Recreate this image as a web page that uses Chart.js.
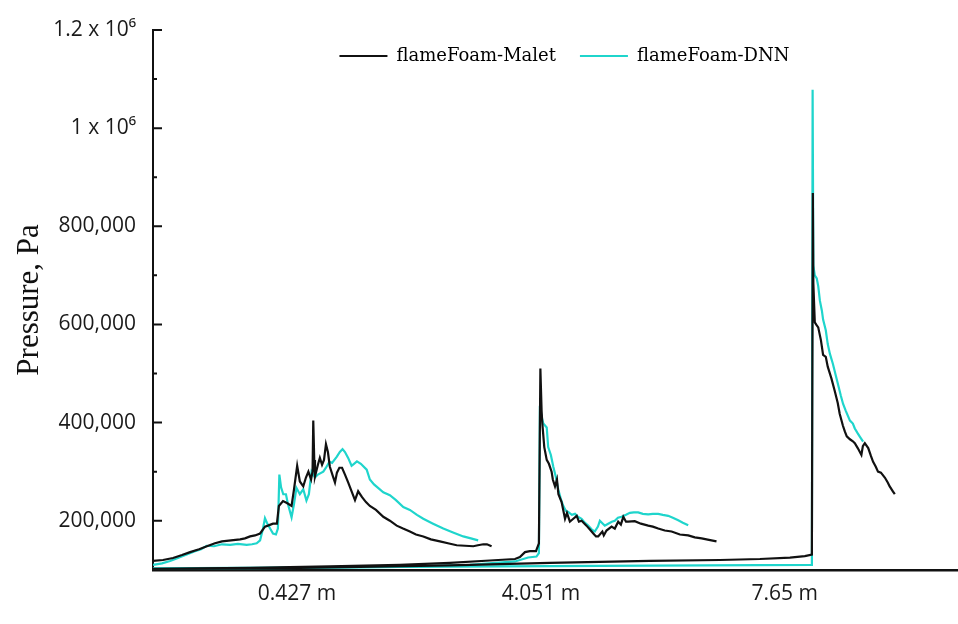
<!DOCTYPE html>
<html>
<head>
<meta charset="utf-8">
<script src="https://cdn.jsdelivr.net/npm/chart.js@4.4.1/dist/chart.umd.min.js"></script>
<style>
  html, body { margin: 0; padding: 0; background: #ffffff; }
  canvas { display: block; }
</style>
</head>
<body>
<canvas id="pressureChart" width="958" height="624"></canvas>
<script>
// Pressure traces [time, Pa] at the three sensor positions.
const maletNear = [
  [0.00,118000],[0.41,120000],[0.82,124000],[1.19,130000],[1.52,136000],[1.89,142000],[2.21,148000],
  [2.54,154000],[2.83,158000],[3.20,160000],[3.57,162000],[3.77,164000],[3.98,168000],[4.18,170000],
  [4.39,174000],[4.59,188000],[4.71,190000],[4.92,194000],[5.08,194000],[5.16,230000],[5.33,240000],
  [5.49,236000],[5.68,230000],[5.78,264000],[5.91,312000],[6.02,280000],[6.16,270000],[6.27,288000],
  [6.37,300000],[6.48,284000],[6.54,300000],[6.57,404000],[6.61,324000],[6.64,290000],[6.76,314000],
  [6.84,328000],[6.93,314000],[7.01,324000],[7.09,356000],[7.17,340000],[7.25,310000],[7.38,290000],
  [7.46,278000],[7.54,298000],[7.64,308000],[7.75,308000],[7.87,294000],[8.00,278000],[8.11,264000],
  [8.28,242000],[8.41,260000],[8.57,248000],[8.73,238000],[8.89,230000],[9.14,222000],[9.44,208000],
  [9.71,200000],[9.99,190000],[10.25,184000],[10.53,178000],[10.78,172000],[11.08,168000],[11.39,162000],
  [11.76,158000],[12.09,154000],[12.45,150000],[12.79,149000],[13.13,148000],[13.32,150000],[13.54,152000],
  [13.69,152000],[13.88,148000]
];
const dnnNear = [
  [0.00,110000],[0.37,113000],[0.70,118000],[1.02,124000],[1.38,131000],[1.72,138000],[1.97,142000],
  [2.20,149000],[2.50,148000],[2.83,152000],[3.16,151000],[3.48,153000],[3.84,151000],[4.06,152000],
  [4.25,154000],[4.39,160000],[4.51,184000],[4.59,205000],[4.67,196000],[4.80,184000],[4.92,174000],
  [5.04,172000],[5.12,184000],[5.18,294000],[5.25,268000],[5.34,254000],[5.45,254000],[5.53,234000],
  [5.68,207000],[5.78,234000],[5.88,267000],[6.02,254000],[6.16,264000],[6.29,241000],[6.39,254000],
  [6.50,300000],[6.64,288000],[6.76,294000],[6.98,300000],[7.09,308000],[7.23,320000],[7.34,318000],
  [7.53,330000],[7.66,340000],[7.77,346000],[7.87,340000],[8.00,328000],[8.14,312000],[8.24,316000],
  [8.36,321000],[8.52,316000],[8.76,304000],[8.89,284000],[9.06,274000],[9.44,258000],[9.71,252000],
  [9.96,242000],[10.26,228000],[10.53,222000],[10.82,212000],[11.08,204000],[11.48,194000],[11.90,184000],
  [12.30,176000],[12.72,168000],[13.03,164000],[13.33,160000]
];
const maletMid = [
  [0.00,102000],[3.98,104000],[7.25,107000],[10.12,110000],[12.17,114000],[13.81,119000],[14.84,122000],
  [15.04,126000],[15.25,136000],[15.45,138000],[15.70,138000],[15.82,154000],[15.88,510000],[15.93,424000],
  [15.96,398000],[16.04,350000],[16.14,324000],[16.23,316000],[16.34,300000],[16.39,284000],[16.48,270000],
  [16.56,284000],[16.62,254000],[16.75,238000],[16.89,204000],[16.97,216000],[17.09,198000],[17.23,204000],
  [17.37,210000],[17.46,198000],[17.57,200000],[17.77,190000],[17.91,182000],[18.05,174000],[18.16,168000],
  [18.25,168000],[18.42,178000],[18.48,170000],[18.59,180000],[18.80,188000],[18.93,184000],[19.07,198000],
  [19.18,192000],[19.28,208000],[19.39,198000],[19.48,198000],[19.75,199000],[20.00,194000],[20.30,190000],
  [20.49,188000],[20.71,184000],[20.98,180000],[21.26,178000],[21.60,172000],[21.94,170000],[22.21,166000],
  [22.49,164000],[22.79,161000],[23.10,158000]
];
const dnnMid = [
  [0.00,102000],[6.02,104000],[10.12,106000],[12.99,110000],[14.84,117000],[15.38,125000],[15.72,127000],
  [15.82,134000],[15.86,434000],[15.92,414000],[16.00,398000],[16.14,390000],[16.20,350000],[16.31,334000],
  [16.41,310000],[16.52,288000],[16.61,264000],[16.72,244000],[16.82,230000],[16.93,220000],[17.02,218000],
  [17.17,212000],[17.30,214000],[17.42,208000],[17.57,204000],[17.70,196000],[17.84,190000],[17.99,182000],
  [18.11,178000],[18.24,188000],[18.32,200000],[18.44,194000],[18.52,190000],[18.66,194000],[18.81,198000],
  [18.93,200000],[19.06,206000],[19.21,208000],[19.39,212000],[19.55,216000],[19.71,217000],[19.89,217000],
  [20.08,214000],[20.30,213000],[20.49,214000],[20.71,214000],[20.90,212000],[21.12,210000],[21.31,206000],
  [21.53,201000],[21.72,196000],[21.94,191000]
];
const maletFar = [
  [0.00,101000],[6.02,104000],[12.17,109000],[16.27,114000],[20.37,118000],[23.24,120000],[24.88,122000],
  [26.11,125000],[26.72,128000],[27.01,131000],[27.05,868000],[27.07,684000],[27.13,604000],[27.21,598000],
  [27.27,594000],[27.38,568000],[27.47,538000],[27.58,534000],[27.66,514000],[27.81,490000],[27.95,464000],
  [28.07,440000],[28.15,418000],[28.28,394000],[28.36,382000],[28.44,372000],[28.57,366000],[28.69,362000],
  [28.77,358000],[28.89,348000],[29.04,334000],[29.10,352000],[29.18,358000],[29.32,348000],[29.43,332000],
  [29.52,320000],[29.63,310000],[29.72,300000],[29.84,298000],[30.00,288000],[30.12,278000],[30.20,270000],
  [30.33,260000],[30.41,254000]
];
const dnnFar = [
  [0.00,103000],[10.12,106000],[18.32,108000],[27.01,110000],[27.04,1078000],[27.07,720000],[27.13,700000],
  [27.21,694000],[27.27,678000],[27.34,648000],[27.42,628000],[27.47,610000],[27.58,588000],[27.66,560000],
  [27.75,540000],[27.87,520000],[27.99,496000],[28.08,478000],[28.20,454000],[28.29,438000],[28.40,424000],
  [28.57,404000],[28.69,398000],[28.77,388000],[28.89,378000],[28.98,371000],[29.11,361000]
];

const seriesNames = ['flameFoam-Malet', 'flameFoam-DNN'];
const sensorLabels = ['0.427 m', '4.051 m', '7.65 m'];
const sensorTicks = [5.9, 15.9, 25.9];
const yTickValues = [200000, 400000, 600000, 800000, 1000000, 1200000];
const yTickLabels = ['200,000', '400,000', '600,000', '800,000', '1 x 10\u2076', '1.2 x 10\u2076'];
const yMinorTicks = [300000, 500000, 700000, 900000, 1100000];

const MALET_COLOR = '#111111';
const DNN_COLOR = '#1fd5cc';
const seriesColors = [MALET_COLOR, DNN_COLOR];

// Malet traces come first so they are painted over the DNN traces.
const traces = [
  { name: seriesNames[0], points: maletNear, color: MALET_COLOR },
  { name: seriesNames[0], points: maletMid, color: MALET_COLOR },
  { name: seriesNames[0], points: maletFar, color: MALET_COLOR },
  { name: seriesNames[1], points: dnnNear, color: DNN_COLOR },
  { name: seriesNames[1], points: dnnMid, color: DNN_COLOR },
  { name: seriesNames[1], points: dnnFar, color: DNN_COLOR }
];

// Short tick marks drawn on the inner side of the pressure axis.
const inwardTicks = {
  id: 'inwardTicks',
  afterDraw(chart) {
    const { ctx, chartArea, scales } = chart;
    const y = scales.y;
    ctx.save();
    ctx.strokeStyle = '#111111';
    ctx.lineWidth = 2;
    ctx.beginPath();
    yTickValues.forEach(v => {
      const py = y.getPixelForValue(v);
      ctx.moveTo(chartArea.left, py);
      ctx.lineTo(chartArea.left + 9, py);
    });
    yMinorTicks.forEach(v => {
      const py = y.getPixelForValue(v);
      ctx.moveTo(chartArea.left, py);
      ctx.lineTo(chartArea.left + 4, py);
    });
    ctx.stroke();
    ctx.restore();
  }
};

// Lays the legend out as a single row and places it inside the plot near its top edge.
const legendPlacement = {
  id: 'legendPlacement',
  beforeLayout(chart) {
    const lg = chart.legend;
    if (lg) lg.isHorizontal = () => true;
  },
  afterLayout(chart) {
    const lg = chart.legend;
    if (!lg) return;
    const a = chart.chartArea;
    lg.left = a.left + 9;
    lg.right = a.right + 9;
    lg.top = 23;
    lg.bottom = lg.top + lg.height;
  }
};

new Chart(document.getElementById('pressureChart'), {
  type: 'line',
  data: {
    datasets: traces.map(t => ({
      label: t.name,
      data: t.points.map(([x, y]) => ({ x, y })),
      borderColor: t.color,
      backgroundColor: t.color,
      borderWidth: 2.2,
      pointRadius: 0,
      tension: 0,
      fill: false
    }))
  },
  options: {
    responsive: false,
    animation: false,
    devicePixelRatio: 1,
    layout: { padding: { left: 0, right: 0, top: 30, bottom: 5 } },
    plugins: {
      tooltip: { enabled: false },
      legend: {
        position: 'chartArea',
        align: 'center',
        labels: {
          boxWidth: 48,
          boxHeight: 2,
          padding: 24,
          color: '#111111',
          font: { family: 'DejaVu Serif', size: 18 },
          generateLabels: () => seriesNames.map((name, i) => ({
            text: name,
            fillStyle: seriesColors[i],
            strokeStyle: seriesColors[i],
            lineWidth: 0,
            hidden: false,
            datasetIndex: i * 3
          }))
        }
      }
    },
    scales: {
      x: {
        type: 'linear',
        min: 0,
        max: 33,
        grid: { display: false, drawTicks: false },
        border: { display: true, color: '#111111', width: 2.5 },
        afterBuildTicks: scale => { scale.ticks = sensorTicks.map(v => ({ value: v })); },
        ticks: {
          autoSkip: false,
          maxRotation: 0,
          padding: 12,
          color: '#1a1a1a',
          font: { family: 'Open Sans', size: 21 },
          callback: (v, i) => sensorLabels[i]
        }
      },
      y: {
        type: 'linear',
        min: 100000,
        max: 1200000,
        grid: { display: false, drawTicks: false },
        border: { display: true, color: '#111111', width: 2 },
        afterBuildTicks: scale => { scale.ticks = yTickValues.map(v => ({ value: v })); },
        afterFit: scale => { scale.width = 153; },
        ticks: {
          autoSkip: false,
          padding: 17,
          color: '#1a1a1a',
          font: { family: 'Open Sans', size: 21 },
          callback: (v, i) => yTickLabels[i]
        },
        title: {
          display: true,
          text: 'Pressure, Pa',
          color: '#111111',
          font: { family: 'Liberation Serif', size: 31 },
          padding: { top: 11, bottom: 0 }
        }
      }
    }
  },
  plugins: [inwardTicks, legendPlacement]
});
</script>
</body>
</html>
